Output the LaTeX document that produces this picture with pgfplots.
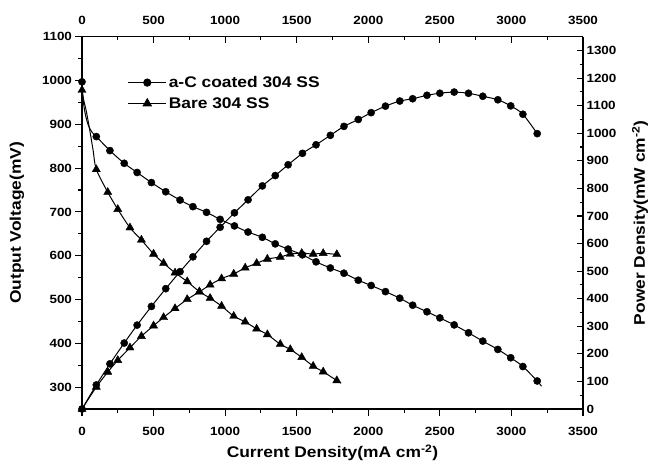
\documentclass[border=0pt]{standalone}
\usepackage{pgfplots}
\pgfplotsset{compat=1.18}
\usepackage{fontspec}
\setmainfont{Liberation Sans}[FakeStretch=1.13]
\pgfplotstableread{
d V P
0 997 0
100 872 87.2
195 840 163.8
295 811 239.2
385 790 304.2
485 767 372.0
585 746 436.4
685 727 498.0
775 712 551.8
870 699 608.1
965 683 659.1
1065 668 711.4
1160 654 758.6
1260 642 808.9
1350 627 846.5
1440 615 885.6
1540 602 927.1
1635 586 958.1
1735 572 992.4
1830 560 1024.8
1930 544 1049.9
2020 532 1074.6
2120 518 1098.2
2220 503 1116.7
2310 487 1125.0
2410 472 1137.5
2500 458 1145.0
2600 442 1149.2
2700 424 1144.8
2800 405 1134.0
2905 386 1121.3
2995 367 1099.2
3080 347 1068.8
3180 314 998.5
}\coated
\pgfplotstableread{
d V
0 997
5 968
12 945
25 920
45 897
70 882
100 872
195 840
295 811
385 790
485 767
585 746
685 727
775 712
870 699
965 683
1065 668
1160 654
1260 642
1350 627
1440 615
1540 602
1635 586
1735 572
1830 560
1930 544
2020 532
2120 518
2220 503
2310 487
2410 472
2500 458
2600 442
2700 424
2800 405
2905 386
2995 367
3080 347
3180 314
3210 302
}\coatedVline
\pgfplotstableread{
d V P
0 978 0
100 797 79.7
180 745 134.1
250 706 176.5
335 664 222.4
415 636 263.9
500 604 302.0
570 583 332.3
650 561 364.7
735 541 397.6
820 518 424.8
895 503 450.2
975 485 472.9
1060 462 489.7
1140 449 511.9
1220 433 528.3
1295 420 543.9
1385 398 551.2
1455 386 561.6
1535 368 564.9
1615 348 562.0
1685 335 564.5
1780 315 560.7
}\bare
\pgfplotstableread{
d V
0 978
12 955
30 930
55 885
78 840
100 797
180 745
250 706
335 664
415 636
500 604
570 583
650 561
735 541
820 518
895 503
975 485
1060 462
1140 449
1220 433
1295 420
1385 398
1455 386
1535 368
1615 348
1685 335
1780 315
1810 309
}\bareVline
\begin{document}
\begin{tikzpicture}
\path[use as bounding box] (-82pt,-57pt) rectangle (570pt,409pt);
\pgfplotsset{
  common/.style={
    scale only axis, width=501pt, height=372.3pt,
    at={(0pt,0pt)}, anchor=south west,
    xmin=0, xmax=3500,
    xtick={0,500,...,3500}, minor x tick num=1,
    minor y tick num=1,
    clip=false,
    axis line style={line width=1.2pt},
    major tick length=6.5pt, minor tick length=3.5pt,
    every tick/.style={line width=1.1pt, black},
    tick label style={font=\fontsize{11.9}{14}\selectfont\bfseries},
    /pgf/number format/assume math mode=true,
    /pgf/number format/set thousands separator={},
    label style={font=\fontsize{15.4}{18}\selectfont\bfseries},
  },
  lplot/.style={black, line width=1pt, smooth, no marks, forget plot},
  cmark/.style={only marks, mark=*, mark size=3.6pt, mark options={solid, fill=black, draw=black}, forget plot},
  tmark/.style={only marks, mark=triangle*, mark size=4.7pt, mark options={solid, fill=black, draw=black}, forget plot},
}
\begin{axis}[common,
  axis x line*=bottom, axis y line*=left,
  ymin=250, ymax=1100, ytick={300,400,...,1100},
  tick align=outside,
  xticklabel style={yshift=-8pt},
  xlabel={Current Density(mA cm\textsuperscript{-2})},
  ylabel={Output Voltage(mV)},
  xlabel style={at={(axis description cs:0.5,-0.118)}, anchor=center},
  ylabel style={at={(axis description cs:-0.13,0.5)}, anchor=center},
  legend style={draw=none, fill=none, at={(axis description cs:0.085,0.905)}, anchor=north west,
    font=\fontsize{15.4}{18}\selectfont\bfseries, row sep=4.5pt},
  legend cell align=left,
  legend image code/.code={\draw[mark repeat=2,mark phase=2,#1] plot coordinates {(0pt,0pt) (19pt,0pt) (38pt,0pt)};},
]
\addlegendimage{black, line width=1pt, mark=*, mark size=3.6pt, mark options={solid, fill=black}}
\addlegendentry{a-C coated 304 SS}
\addlegendimage{black, line width=1pt, mark=triangle*, mark size=4.7pt, mark options={solid, fill=black}}
\addlegendentry{Bare 304 SS}
\addplot[lplot] table[x=d, y=V] {\coatedVline};
\addplot[cmark] table[x=d, y=V] {\coated};
\addplot[lplot] table[x=d, y=V] {\bareVline};
\addplot[tmark] table[x=d, y=V] {\bare};
\end{axis}
\begin{axis}[common,
  axis x line*=top, axis y line*=right,
  ymin=0, ymax=1350, ytick={0,100,...,1300},
  tick align=inside,
  xticklabel style={anchor=south, yshift=8.4pt},
  ylabel={Power Density(mW cm\textsuperscript{-2})},
  ylabel style={at={(axis description cs:1.114,0.5)}, anchor=center},
]
\addplot[lplot] table[x=d, y=P] {\coated};
\addplot[cmark] table[x=d, y=P] {\coated};
\addplot[lplot] table[x=d, y=P] {\bare};
\addplot[tmark] table[x=d, y=P] {\bare};
\end{axis}
\end{tikzpicture}
\end{document}
